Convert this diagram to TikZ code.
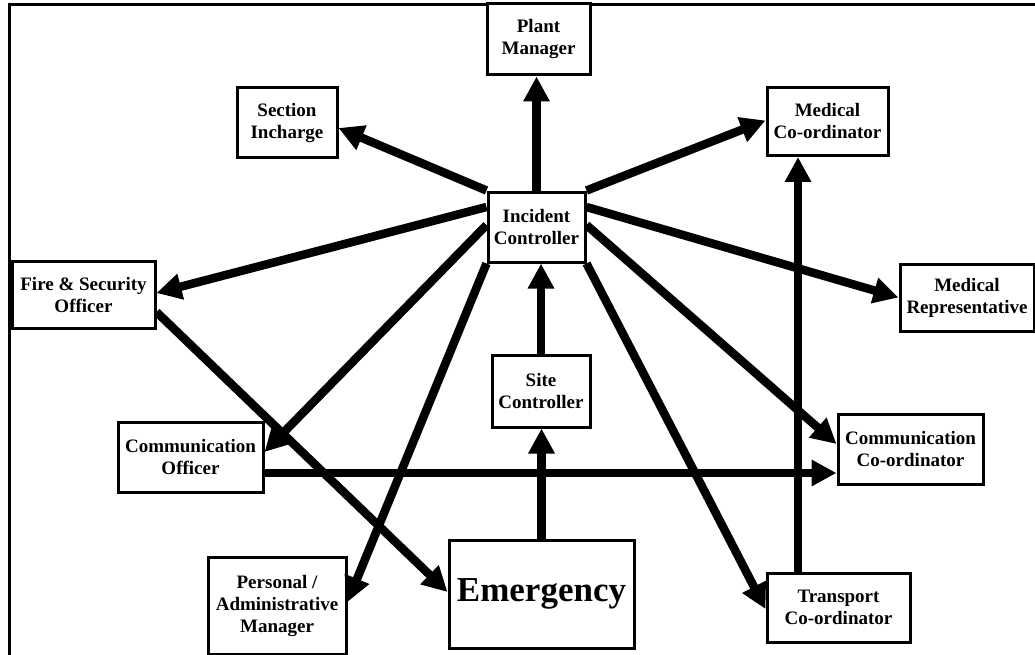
\documentclass[tikz,border=0pt]{standalone}
\usepackage{fontspec}
\setmainfont{Liberation Serif}
\usetikzlibrary{arrows.meta}
\begin{document}
\begin{tikzpicture}[x=1pt,y=-1pt,
  box/.style={draw=black,line width=3pt,fill=white,inner sep=0pt,align=center,
    font=\bfseries\fontsize{19}{22}\selectfont},
  arr/.style={line width=8.5pt,-{Triangle[length=25pt,width=25pt]}},
  frame/.style={line width=3pt}]
\useasboundingbox (0,0) rectangle (1035,655);
% frame
\draw[frame] (1035,5) -- (9.5,5) -- (9.5,655);
% nodes
\node[box,minimum width=103pt,minimum height=71pt] (pm) at (538.5,39.5) {Plant\\Manager};
\node[box,minimum width=100pt,minimum height=70pt] (si) at (287,123) {Section\\Incharge};
\node[box,minimum width=121pt,minimum height=68pt] (mc) at (827.5,121.5) {Medical\\Co-ordinator};
\node[box,minimum width=97pt,minimum height=70pt] (ic) at (536.5,227) {Incident\\Controller};
\node[box,minimum width=143pt,minimum height=67pt] (fs) at (83.5,294.5) {Fire \& Security\\Officer};
\node[box,minimum width=134pt,minimum height=67pt] (mr) at (967,297.5) {Medical\\Representative};
\node[box,minimum width=98pt,minimum height=72pt] (sc) at (541,391) {Site\\Controller};
\node[box,minimum width=145pt,minimum height=70pt] (co) at (190.5,457) {Communication\\Officer};
\node[box,minimum width=145pt,minimum height=70pt] (cc) at (910.5,449) {Communication\\Co-ordinator};
\node[box,minimum width=138pt,minimum height=97pt] (pa) at (277,605.5) {Personal /\\Administrative\\Manager};
\node[box,minimum width=185pt,minimum height=108pt,font=\bfseries\fontsize{35}{40}\selectfont] (em) at (541.5,594) {Emergency};
\node[box,minimum width=143pt,minimum height=69pt] (tc) at (838.5,607.5) {Transport\\Co-ordinator};
% helper coordinates
\coordinate (coS) at ([yshift=-16pt]co.east);
\coordinate (tcS) at ([xshift=-40.5pt]tc.north);
% connectors
\draw[arr] (ic.north) -- (ic.north |- pm.south);
\draw[arr] (ic.north west) -- ([yshift=-5pt]si.east);
\draw[arr] (ic.north east) -- ([yshift=1pt]mc.west);
\draw[arr] ([yshift=20pt]ic.west) -- ([yshift=1.5pt]fs.east);
\draw[arr] ([yshift=20pt]ic.east) -- (mr.west);
\draw[arr] ([yshift=2pt]ic.west) -- ([yshift=5pt]co.east);
\draw[arr] (ic.south west) -- ([yshift=3.5pt]pa.east);
\draw[arr] ([yshift=2pt]ic.east) -- ([yshift=5pt]cc.west);
\draw[arr] (ic.south east) -- ([yshift=-1.5pt]tc.west);
\draw[arr] (sc.north) -- (sc.north |- ic.south);
\draw[arr] (em.north) -- (em.north |- sc.south);
\draw[arr] ([yshift=-17.5pt]fs.east) -- ([yshift=2pt]em.west);
\draw[arr] (coS) -- (cc.west |- coS);
\draw[arr] (tcS) -- (tcS |- mc.south);
\end{tikzpicture}
\end{document}
